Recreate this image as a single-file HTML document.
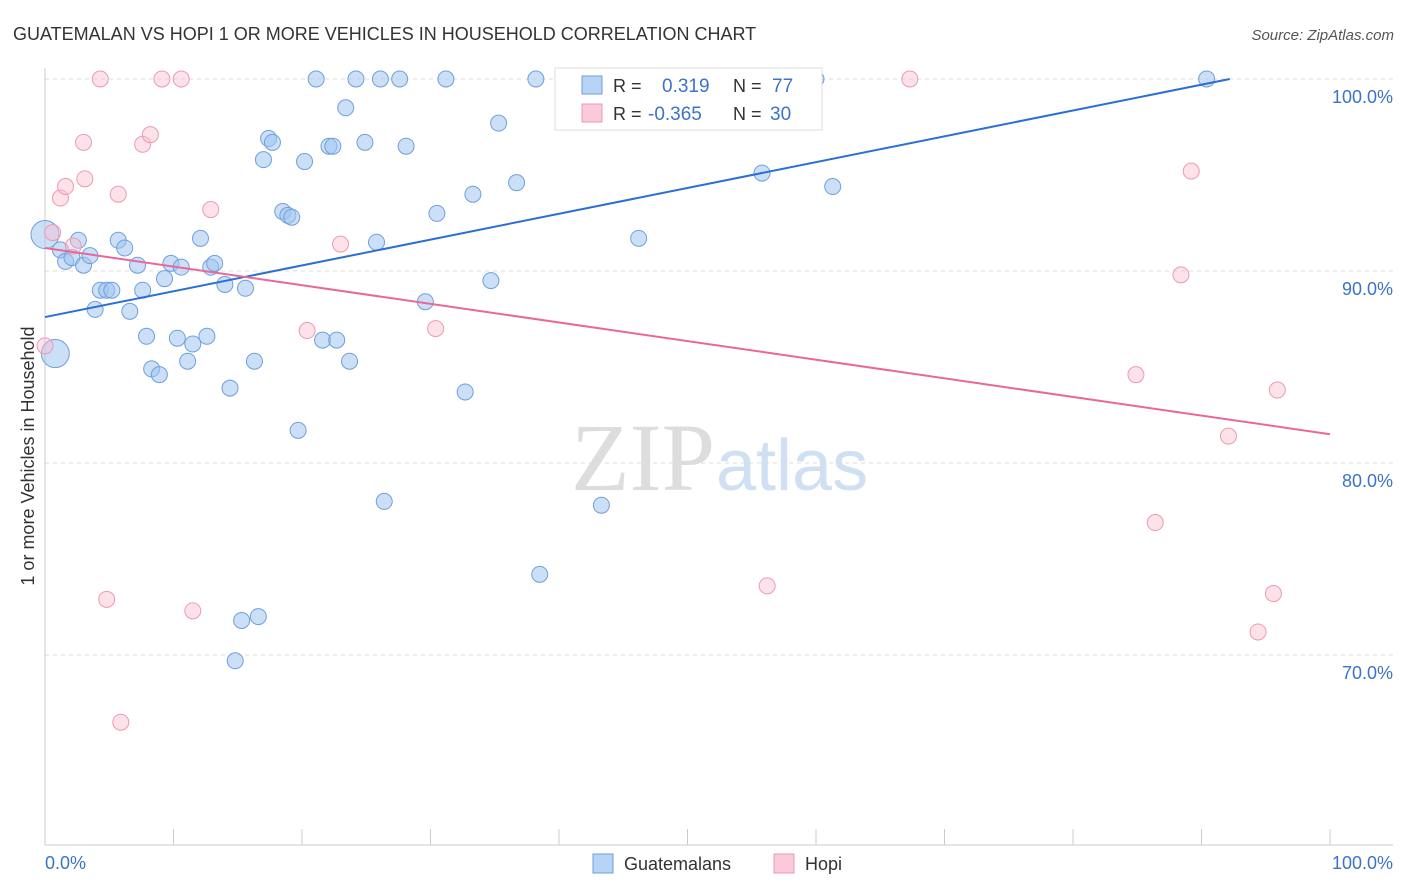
<!DOCTYPE html>
<html><head><meta charset="utf-8"><style>
body{margin:0;background:#fff;font-family:"Liberation Sans",sans-serif;}
svg{display:block}
</style></head><body>
<svg id="chart" width="1406" height="892" viewBox="0 0 1406 892">
<text x="13" y="40" font-size="18" fill="#333">GUATEMALAN VS HOPI 1 OR MORE VEHICLES IN HOUSEHOLD CORRELATION CHART</text>
<text x="1394" y="40" font-size="15" fill="#555" font-style="italic" text-anchor="end">Source: ZipAtlas.com</text>
<g id="grid"></g>
<text x="715" y="490" font-size="96" fill="#ddd" text-anchor="end" font-family="Liberation Serif,serif">ZIP</text>
<text x="716" y="490" font-size="72" fill="#cfe0f3">atlas</text>
<g id="pts"></g>
<g id="lines"></g>
<text transform="translate(34,456) rotate(-90)" font-size="18" fill="#333" text-anchor="middle">1 or more Vehicles in Household</text>
<text x="45" y="869" font-size="18" fill="#3b73c8">0.0%</text>
<text x="1393" y="869" font-size="18" fill="#3b73c8" text-anchor="end">100.0%</text>
<g>
<rect x="555" y="68" width="267" height="62" fill="#fff" stroke="#ddd"/>
<rect x="582" y="76" width="20" height="18" fill="#b7d3f5" stroke="#6f9fdc"/>
<rect x="582" y="104" width="20" height="18" fill="#fbc9d7" stroke="#eb9ab1"/>
<text x="613" y="92" font-size="18" fill="#333">R =</text>
<text x="662" y="92" font-size="19" fill="#3b73c8">0.319</text>
<text x="733" y="92" font-size="18" fill="#333">N =</text>
<text x="772" y="92" font-size="19" fill="#3b73c8">77</text>
<text x="613" y="120" font-size="18" fill="#333">R =</text>
<text x="648" y="120" font-size="19" fill="#3b73c8">-0.365</text>
<text x="733" y="120" font-size="18" fill="#333">N =</text>
<text x="770" y="120" font-size="19" fill="#3b73c8">30</text>
</g>
<g>
<rect x="593" y="854" width="20" height="19" fill="#b7d3f5" stroke="#6f9fdc"/>
<text x="624" y="870" font-size="18" fill="#333">Guatemalans</text></g>
<g>
<rect x="774" y="854" width="20" height="19" fill="#fbc9d7" stroke="#eb9ab1"/>
<text x="805" y="870" font-size="18" fill="#333">Hopi</text></g>
</svg>
<script>
const yTicks=[100,90,80,70];
const yTickLabels=["100.0%","90.0%","80.0%","70.0%"];
const xTicks=[0,10,20,30,40,50,60,70,80,90,100];
const blueX=[0,0.8,1.2,1.6,2.1,2.6,3.0,3.5,3.9,4.3,4.8,5.2,5.7,6.2,6.6,7.2,7.6,7.9,8.3,8.9,9.3,9.8,10.3,10.6,11.1,11.5,12.1,12.6,12.9,13.2,14.0,14.4,14.8,15.3,15.6,16.3,16.6,17.0,17.4,17.7,18.5,18.9,19.2,19.7,20.2,21.1,21.6,22.1,22.4,22.7,23.4,23.7,24.2,24.9,25.8,26.1,26.4,27.6,28.1,29.6,30.5,31.2,32.7,33.3,34.7,35.3,36.7,38.2,38.5,43.3,43.3,46.2,52.3,55.8,60.0,61.3,90.4];
const blueY=[91.9,85.7,91.1,90.5,90.7,91.6,90.3,90.8,88.0,89.0,89.0,89.0,91.6,91.2,87.9,90.3,89.0,86.6,84.9,84.6,89.6,90.4,86.5,90.2,85.3,86.2,91.7,86.6,90.2,90.4,89.3,83.9,69.7,71.8,89.1,85.3,72.0,95.8,96.9,96.7,93.1,92.9,92.8,81.7,95.7,100,86.4,96.5,96.5,86.4,98.5,85.3,100,96.7,91.5,100,78.0,100,96.5,88.4,93.0,100,83.7,94.0,89.5,97.7,94.6,100,74.2,77.8,100,91.7,100,95.1,100,94.4,100];
const pinkX=[0,0.6,1.2,1.6,2.2,3,3.1,4.3,4.8,5.7,5.9,7.6,8.2,9.1,10.6,11.5,12.9,20.4,23,30.4,56.2,67.3,84.9,86.4,88.4,89.2,92.1,94.4,95.6,95.9];
const pinkY=[86.1,92,93.8,94.4,91.3,96.7,94.8,100,72.9,94,66.5,96.6,97.1,100,100,72.3,93.2,86.9,91.4,87,73.6,100,84.6,76.9,89.8,95.2,81.4,71.2,73.2,83.8];
const blueFit=[[0,87.6],[92.2,100]];
const pinkFit=[[0,91.2],[100,81.5]];
const NS="http://www.w3.org/2000/svg";
const X=v=>45+v*12.85, Y=v=>79+(100-v)*19.2;
function mk(t,a,p){const e=document.createElementNS(NS,t);for(const k in a)e.setAttribute(k,a[k]);p.appendChild(e);return e;}
const grid=document.getElementById('grid');
yTicks.forEach((t,i)=>{
 const l=mk('line',{x1:45,x2:1393,y1:Y(t),y2:Y(t),stroke:'#ddd','stroke-dasharray':'4,4'},grid);
 
 
 const tx=mk('text',{x:1393,y:Y(t)+24,'font-size':18,fill:'#3b73c8','text-anchor':'end'},grid);
 tx.textContent=yTickLabels[i];
 
 
});
const ax=mk('line',{x1:45,x2:45,y1:68,y2:845,stroke:'#ccc'},grid);


const bx=mk('line',{x1:45,x2:1393,y1:845,y2:845,stroke:'#ccc'},grid);


xTicks.forEach(t=>{const l=mk('line',{x1:X(t),x2:X(t),y1:829,y2:845,stroke:'#ccc'},grid);
 
 });
const pts=document.getElementById('pts');
blueX.forEach((v,i)=>{const r=(i<2)?14:8;
 const c=mk('circle',{cx:X(v),cy:Y(blueY[i]),r:r,fill:'rgba(160,196,240,0.55)',stroke:'#6f9fdc','stroke-width':1},pts);
 
 });
pinkX.forEach((v,i)=>{
 const c=mk('circle',{cx:X(v),cy:Y(pinkY[i]),r:8,fill:'rgba(250,190,208,0.45)',stroke:'#eb9ab1','stroke-width':1},pts);
 
 });
const lines=document.getElementById('lines');
const bl=mk('line',{x1:X(blueFit[0][0]),y1:Y(blueFit[0][1]),x2:X(blueFit[1][0]),y2:Y(blueFit[1][1]),stroke:'#2b6fd6','stroke-width':2},lines);


const pl=mk('line',{x1:X(pinkFit[0][0]),y1:Y(pinkFit[0][1]),x2:X(pinkFit[1][0]),y2:Y(pinkFit[1][1]),stroke:'#e8689a','stroke-width':2},lines);


</script>
</body></html>
